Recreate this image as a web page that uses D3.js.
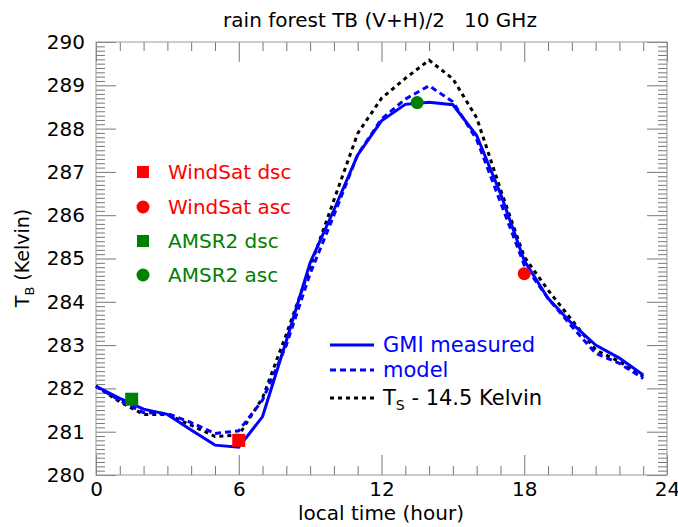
<!DOCTYPE html>
<html>
<head>
<meta charset="utf-8">
<script src="https://cdn.jsdelivr.net/npm/d3@7"></script>
<style>
  body { margin: 0; background: #fff; }
  text { font-family: "DejaVu Sans", sans-serif; }
</style>
</head>
<body>
<div id="chart"></div>
<script>
const hours = d3.range(0, 24);
const gmiMeasured = [282.05, 281.77, 281.52, 281.40, 281.04, 280.69, 280.64, 281.35, 283.10, 284.90, 286.12, 287.39,
                     288.18, 288.56, 288.61, 288.55, 287.84, 286.50, 284.95, 284.08, 283.50, 283.00, 282.70, 282.31];
const model = [282.05, 281.72, 281.44, 281.42, 281.21, 280.96, 281.02, 281.73, 283.00, 284.65, 286.00, 287.40,
               288.22, 288.68, 288.99, 288.62, 287.75, 286.30, 284.85, 284.08, 283.43, 282.81, 282.58, 282.23];
const tsMinus = [282.05, 281.69, 281.40, 281.40, 281.15, 280.89, 280.92, 281.78, 283.25, 284.80, 286.35, 287.89,
                 288.70, 289.16, 289.58, 289.15, 288.25, 286.60, 285.04, 284.27, 283.58, 282.89, 282.62, 282.27];

// satellite overpass points: [hour, TB]
const windsatDsc = [[6.0, 280.80]];
const windsatAsc = [[18.0, 284.65]];
const amsr2Dsc = [[1.5, 281.75]];
const amsr2Asc = [[13.5, 288.60]];

const xTicks = [0, 6, 12, 18, 24];
const yTicks = [280, 281, 282, 283, 284, 285, 286, 287, 288, 289, 290];

const svgWidth = 678, svgHeight = 527;
const margin = { top: 42, right: 11, bottom: 52, left: 96 };
const width = svgWidth - margin.left - margin.right;
const height = svgHeight - margin.top - margin.bottom;

const svg = d3.select("#chart").append("svg")
  .attr("width", svgWidth)
  .attr("height", svgHeight);

const chart = svg.append("g")
  .attr("transform", `translate(${margin.left},${margin.top})`);

const x = d3.scaleLinear().domain([0, 24]).range([0, width]);
const y = d3.scaleLinear().domain([280, 290]).range([height, 0]);

// minor + major ticks on all four sides
const tickCol = "#777";
function ticks(g, axisFn, scale, values, size) {
  g.call(axisFn(scale).tickValues(values).tickSize(size).tickFormat(""))
    .call(a => a.select(".domain").remove())
    .call(a => a.selectAll("line").attr("stroke", tickCol));
}
const xMinor = d3.range(0, 25, 1).filter(d => d % 6 !== 0);
const yMinor = d3.range(2800, 2901, 1).filter(d => d % 10 !== 0).map(d => d / 10);

ticks(chart.append("g").attr("transform", `translate(0,${height})`), d3.axisTop, x, xMinor, 9);
ticks(chart.append("g").attr("transform", `translate(0,${height})`), d3.axisTop, x, xTicks, 20);
ticks(chart.append("g"), d3.axisBottom, x, xMinor, 9);
ticks(chart.append("g"), d3.axisBottom, x, xTicks, 20);
ticks(chart.append("g"), d3.axisRight, y, yMinor, 9);
ticks(chart.append("g"), d3.axisRight, y, yTicks, 20);
ticks(chart.append("g").attr("transform", `translate(${width},0)`), d3.axisLeft, y, yMinor, 9);
ticks(chart.append("g").attr("transform", `translate(${width},0)`), d3.axisLeft, y, yTicks, 20);

chart.append("rect")
  .attr("x", 0).attr("y", 0)
  .attr("width", width).attr("height", height)
  .attr("fill", "none")
  .attr("stroke", "#999")
  .attr("stroke-width", 1);

// tick labels
const xLab = chart.append("g").attr("transform", `translate(0,${height})`)
  .call(d3.axisBottom(x).tickValues(xTicks).tickSize(0).tickPadding(7).tickFormat(d3.format("d")));
xLab.select(".domain").remove();
xLab.selectAll("text").attr("font-size", 20).attr("fill", "#000")
  .style("font-family", "DejaVu Sans, sans-serif");

const yLab = chart.append("g")
  .call(d3.axisLeft(y).tickValues(yTicks).tickSize(0).tickPadding(11).tickFormat(d3.format("d")));
yLab.select(".domain").remove();
yLab.selectAll("text").attr("font-size", 20).attr("fill", "#000")
  .style("font-family", "DejaVu Sans, sans-serif");

// lines
const line = d3.line().x((d, i) => x(hours[i])).y(d => y(d));

chart.append("path").datum(tsMinus)
  .attr("d", line).attr("fill", "none")
  .attr("stroke", "#000").attr("stroke-width", 3).attr("stroke-dasharray", "4,4");

chart.append("path").datum(model)
  .attr("d", line).attr("fill", "none")
  .attr("stroke", "#0000ff").attr("stroke-width", 3).attr("stroke-dasharray", "6,4");

chart.append("path").datum(gmiMeasured)
  .attr("d", line).attr("fill", "none")
  .attr("stroke", "#0000ff").attr("stroke-width", 3);

// overpass markers
function squares(data, color) {
  chart.selectAll(null).data(data).enter().append("rect")
    .attr("x", d => x(d[0]) - 6.5).attr("y", d => y(d[1]) - 6.5)
    .attr("width", 13).attr("height", 13).attr("fill", color);
}
function circles(data, color) {
  chart.selectAll(null).data(data).enter().append("circle")
    .attr("cx", d => x(d[0])).attr("cy", d => y(d[1]))
    .attr("r", 6.5).attr("fill", color);
}
squares(windsatDsc, "#ff0000");
circles(windsatAsc, "#ff0000");
squares(amsr2Dsc, "#008000");
circles(amsr2Asc, "#008000");

// marker legend
const markLegend = [
  { label: "WindSat dsc", color: "#ff0000", shape: "square", y: 172 },
  { label: "WindSat asc", color: "#ff0000", shape: "circle", y: 207 },
  { label: "AMSR2 dsc", color: "#008000", shape: "square", y: 241 },
  { label: "AMSR2 asc", color: "#008000", shape: "circle", y: 275 }
];
markLegend.forEach(d => {
  if (d.shape === "square") {
    svg.append("rect").attr("x", 137).attr("y", d.y - 6).attr("width", 12).attr("height", 12).attr("fill", d.color);
  } else {
    svg.append("circle").attr("cx", 143).attr("cy", d.y).attr("r", 6.5).attr("fill", d.color);
  }
  svg.append("text").attr("x", 168).attr("y", d.y).attr("dy", "0.35em")
    .attr("font-size", 20).attr("fill", d.color).text(d.label);
});

// line legend
const lineLegend = [
  { color: "#0000ff", dash: null, y: 345 },
  { color: "#0000ff", dash: "6,4", y: 370 },
  { color: "#000", dash: "4,4", y: 398 }
];
lineLegend.forEach(d => {
  svg.append("line").attr("x1", 330).attr("x2", 374).attr("y1", d.y).attr("y2", d.y)
    .attr("stroke", d.color).attr("stroke-width", 3).attr("stroke-dasharray", d.dash);
});
svg.append("text").attr("x", 383).attr("y", 345).attr("dy", "0.35em")
  .attr("font-size", 21).attr("fill", "#0000ff").text("GMI measured");
svg.append("text").attr("x", 383).attr("y", 370).attr("dy", "0.35em")
  .attr("font-size", 21).attr("fill", "#0000ff").text("model");
const tsText = svg.append("text").attr("x", 383).attr("y", 398).attr("dy", "0.35em")
  .attr("font-size", 21).attr("fill", "#000");
tsText.append("tspan").text("T");
tsText.append("tspan").attr("font-size", 14).attr("dy", "0.35em").text("S");
tsText.append("tspan").attr("dy", "-0.25em").text(" - 14.5 Kelvin");

// title and axis labels
svg.append("text").attr("x", 380).attr("y", 27).attr("text-anchor", "middle")
  .attr("font-size", 20).style("white-space", "pre")
  .text("rain forest TB (V+H)/2   10 GHz");

svg.append("text").attr("x", 381).attr("y", 520).attr("text-anchor", "middle")
  .attr("font-size", 20).text("local time (hour)");

const yTitle = svg.append("text")
  .attr("transform", "translate(29,258) rotate(-90)")
  .attr("text-anchor", "middle")
  .attr("font-size", 19);
yTitle.append("tspan").text("T");
yTitle.append("tspan").attr("font-size", 13).attr("dy", "0.35em").text("B");
yTitle.append("tspan").attr("dy", "-0.25em").text(" (Kelvin)");
</script>
</body>
</html>
